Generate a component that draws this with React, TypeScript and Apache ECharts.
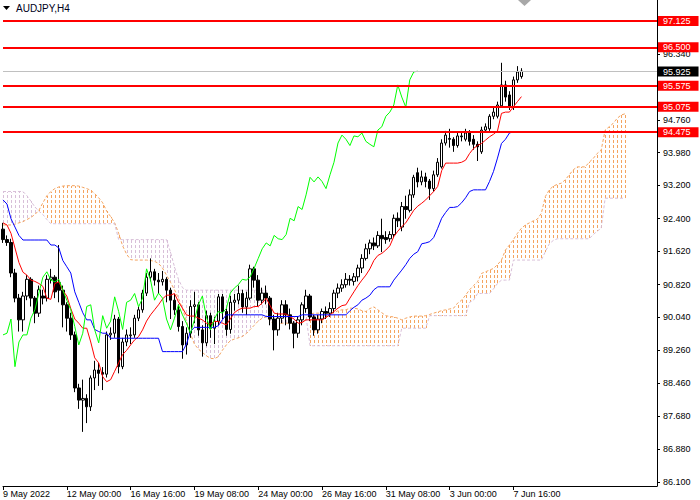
import React, { useEffect, useRef } from "react";
import * as echarts from "echarts";

// ---- tick labels ----
const dateLabels = ["9 May 2022", "12 May 00:00", "16 May 16:00", "19 May 08:00", "24 May 00:00", "26 May 16:00", "31 May 08:00", "3 Jun 00:00", "7 Jun 16:00"];
const priceTicks = [96.34, 94.76, 93.98, 93.2, 92.4, 91.62, 90.82, 90.04, 89.26, 88.46, 87.68, 86.88, 86.1];

// ---- horizontal levels ----
const levels = [97.125, 96.5, 95.575, 95.075, 94.475];
const bidPrice = 95.925;

// ---- candles (H4) ----
const opens = [92.15, 91.90, 91.83, 91.10, 90.50, 89.98, 90.55, 90.95, 90.50, 90.14,
  90.55, 90.50, 90.95, 91.00, 90.87, 90.69, 90.34, 90.02, 89.62, 88.35,
  88.06, 88.10, 87.90, 88.59, 88.78, 88.72, 88.68, 89.62, 89.66, 90.00,
  88.86, 89.45, 89.60, 89.62, 90.02, 90.22, 90.62, 91.00, 91.13, 90.93,
  90.89, 90.95, 90.69, 90.45, 90.22, 89.82, 89.38, 89.66, 90.30, 90.34,
  89.74, 89.43, 90.08, 89.78, 89.95, 90.53, 90.18, 89.75, 90.40, 90.45,
  90.61, 90.29, 90.50, 91.20, 90.93, 90.45, 90.62, 90.50, 90.00, 89.74,
  90.02, 90.34, 90.10, 89.90, 89.66, 89.98, 90.25, 90.55, 90.05, 89.74,
  90.00, 90.18, 90.14, 90.25, 90.62, 90.74, 90.82, 90.95, 90.90, 91.01,
  91.22, 91.45, 91.68, 91.82, 91.75, 92.00, 91.95, 91.92, 92.02, 92.41,
  92.20, 92.69, 92.60, 92.97, 93.50, 93.28, 93.40, 93.30, 93.12, 93.45,
  93.64, 94.21, 94.32, 94.30, 94.15, 94.38, 94.30, 94.45, 94.30, 94.18,
  94.00, 94.52, 94.55, 94.85, 94.85, 95.10, 95.60, 95.36, 95.07, 95.72,
  95.80];
const closes = [91.90, 91.83, 91.10, 90.50, 89.98, 90.55, 90.95, 90.50, 90.14, 90.70,
  90.50, 90.95, 91.00, 90.65, 90.69, 90.34, 90.02, 89.62, 88.35, 88.06,
  88.10, 87.90, 88.59, 88.78, 88.70, 88.68, 89.62, 89.66, 90.00, 88.86,
  89.45, 89.62, 89.62, 90.02, 90.22, 90.62, 91.00, 91.13, 90.93, 90.89,
  90.95, 90.69, 90.45, 90.22, 89.82, 89.38, 89.66, 90.30, 90.34, 89.74,
  89.43, 90.08, 89.78, 89.95, 90.53, 90.18, 89.75, 90.40, 90.45, 90.61,
  90.29, 90.50, 91.20, 90.93, 90.45, 90.62, 90.50, 90.00, 89.74, 90.02,
  90.34, 90.10, 89.90, 89.66, 89.98, 90.34, 90.55, 90.05, 89.74, 90.00,
  90.18, 90.14, 90.25, 90.62, 90.74, 90.82, 90.95, 90.93, 91.01, 91.22,
  91.45, 91.68, 91.82, 91.75, 92.00, 91.92, 91.90, 92.02, 92.41, 92.35,
  92.69, 92.62, 92.97, 93.39, 93.28, 93.40, 93.29, 93.12, 93.45, 93.75,
  94.21, 94.40, 94.30, 94.15, 94.38, 94.36, 94.45, 94.25, 94.18, 94.12,
  94.52, 94.60, 94.85, 94.95, 95.12, 95.60, 95.31, 95.07, 95.72, 95.91,
  95.93];
const highs = [92.30, 92.00, 91.92, 91.20, 90.60, 90.65, 91.05, 91.00, 90.55, 90.80,
  90.70, 91.05, 91.20, 91.05, 91.77, 90.80, 90.40, 90.15, 89.70, 88.45,
  88.55, 88.20, 88.65, 89.00, 88.95, 88.85, 89.70, 89.80, 90.10, 90.05,
  89.55, 89.75, 89.80, 90.10, 90.30, 90.70, 91.10, 91.45, 91.20, 91.10,
  91.15, 91.00, 90.75, 90.60, 90.35, 89.95, 89.80, 90.45, 90.65, 90.40,
  89.85, 90.20, 90.15, 90.05, 90.60, 90.60, 90.25, 90.55, 90.60, 90.80,
  90.70, 90.65, 91.30, 91.25, 91.05, 90.75, 90.80, 90.55, 90.10, 90.15,
  90.45, 90.45, 90.25, 89.95, 90.05, 90.40, 90.70, 90.60, 90.10, 90.10,
  90.25, 90.30, 90.40, 90.70, 90.85, 90.95, 91.10, 91.05, 91.10, 91.30,
  91.55, 91.80, 91.90, 91.95, 92.10, 92.40, 92.10, 92.10, 92.50, 92.55,
  92.80, 92.95, 93.10, 93.45, 93.62, 93.55, 93.50, 93.35, 93.55, 93.85,
  94.30, 94.50, 94.55, 94.35, 94.45, 94.45, 94.55, 94.52, 94.40, 94.25,
  94.60, 94.68, 94.90, 95.05, 95.20, 96.13, 95.70, 95.45, 95.80, 96.05,
  96.00];
const lows = [91.82, 91.75, 91.00, 90.40, 89.70, 89.70, 90.45, 90.30, 89.90, 90.05,
  90.35, 90.42, 90.85, 90.50, 90.40, 89.80, 89.70, 89.50, 88.25, 87.85,
  87.30, 87.51, 87.80, 88.30, 88.40, 88.30, 88.60, 89.50, 89.55, 88.70,
  88.80, 89.35, 89.40, 89.55, 89.95, 90.15, 90.55, 90.90, 90.80, 90.60,
  90.80, 90.40, 90.00, 90.10, 89.70, 89.05, 89.15, 89.55, 89.90, 89.60,
  89.10, 89.35, 89.55, 89.40, 89.85, 90.00, 89.60, 89.65, 90.20, 90.35,
  90.15, 90.10, 90.45, 90.75, 90.30, 90.35, 90.35, 89.85, 89.25, 89.60,
  89.90, 89.85, 89.75, 89.30, 89.55, 89.85, 90.15, 89.95, 89.60, 89.65,
  89.90, 90.00, 90.05, 90.15, 90.50, 90.65, 90.75, 90.80, 90.80, 90.90,
  91.10, 91.40, 91.55, 91.65, 91.70, 91.60, 91.80, 91.85, 91.95, 92.20,
  92.10, 92.40, 92.55, 92.90, 93.15, 93.20, 93.15, 92.85, 93.05, 93.40,
  93.60, 94.15, 94.10, 94.00, 94.10, 94.25, 94.25, 94.15, 94.05, 93.78,
  93.95, 94.45, 94.50, 94.78, 94.80, 95.05, 95.20, 95.00, 95.00, 95.65,
  95.75];

// ---- Ichimoku lines ----
const tenkan = [92.30, 92.25, 92.05, 91.70, 91.35, 91.12, 91.05, 90.93, 90.90, 90.85,
  90.78, 90.50, 90.47, 90.85, 90.89, 90.68, 90.55, 90.25, 90.00, 89.90,
  89.78, 89.78, 89.45, 89.07, 88.95, 88.62, 88.50, 88.55, 88.75, 88.95,
  89.15, 89.25, 89.38, 89.50, 89.58, 89.74, 89.95, 90.10, 90.22, 90.34,
  90.48, 90.57, 90.57, 90.61, 90.41, 90.26, 90.10, 90.07, 90.07, 90.02,
  89.98, 89.90, 89.88, 89.94, 89.94, 89.90, 89.86, 90.00, 90.15, 90.22,
  90.26, 90.26, 90.26, 90.30, 90.30, 90.38, 90.50, 90.32, 90.14, 90.12,
  90.12, 90.12, 90.05, 90.00, 89.90, 89.92, 89.98, 89.98, 89.98, 89.98,
  89.98, 90.04, 90.10, 90.18, 90.26, 90.32, 90.34, 90.50, 90.65, 90.80,
  90.93, 91.05, 91.20, 91.40, 91.52, 91.57, 91.65, 91.75, 91.97, 92.10,
  92.21, 92.30, 92.45, 92.60, 92.70, 92.77, 92.85, 92.95, 93.05, 93.17,
  93.55, 93.73, 93.73, 93.73, 93.73, 93.75, 93.80, 93.96, 94.08, 94.15,
  94.20, 94.28, 94.36, 94.42, 94.50, 94.92, 94.95, 94.95, 95.08, 95.20,
  95.32];
const kijun = [92.85, 92.75, 92.40, 92.20, 92.00, 91.89, 91.89, 91.89, 91.89, 91.89,
  91.89, 91.89, 91.77, 91.77, 91.70, 91.40, 91.25, 91.10, 90.65, 90.40,
  90.15, 89.98, 89.98, 89.75, 89.70, 89.66, 89.66, 89.54, 89.54, 89.54,
  89.54, 89.54, 89.54, 89.54, 89.54, 89.54, 89.54, 89.54, 89.54, 89.54,
  89.22, 89.22, 89.22, 89.22, 89.22, 89.22, 89.40, 89.70, 89.80, 89.80,
  89.80, 89.80, 89.80, 89.80, 89.84, 89.98, 90.10, 90.10, 90.10, 90.10,
  90.10, 90.10, 90.10, 90.10, 90.10, 90.10, 90.06, 90.06, 90.06, 90.06,
  90.06, 90.06, 90.06, 90.06, 90.06, 90.10, 90.10, 90.10, 90.10, 90.10,
  90.10, 90.10, 90.10, 90.10, 90.10, 90.10, 90.10, 90.20, 90.28, 90.34,
  90.45, 90.50, 90.57, 90.70, 90.77, 90.77, 90.77, 90.77, 90.93, 91.05,
  91.17, 91.30, 91.45, 91.55, 91.61, 91.80, 91.82, 91.85, 91.95, 92.17,
  92.41, 92.55, 92.67, 92.67, 92.69, 92.78, 92.90, 93.05, 93.09, 93.09,
  93.09, 93.09, 93.29, 93.53, 93.85, 94.20, 94.30, 94.45, 94.48];
const spanA = [92.25, 92.25, 92.25, 92.27, 92.30, 92.33, 92.38, 92.43, 92.50, 92.60,
  92.78, 92.95, 93.05, 93.12, 93.16, 93.18, 93.19, 93.19, 93.19, 93.18,
  93.15, 93.12, 93.08, 93.00, 92.90, 92.78, 92.58, 92.45, 92.30, 92.05,
  91.75, 91.55, 91.42, 91.41, 91.41, 91.41, 91.41, 91.40, 91.38, 91.33,
  91.22, 91.05, 90.88, 90.70, 90.50, 90.25, 89.95, 89.65, 89.40, 89.28,
  89.20, 89.12, 89.06, 89.05, 89.10, 89.25, 89.38, 89.48, 89.52, 89.55,
  89.58, 89.65, 89.75, 89.85, 89.95, 90.02, 90.05, 89.95, 89.86, 89.88,
  89.90, 89.90, 89.90, 89.90, 89.90, 89.90, 90.00, 90.12, 90.14, 90.14,
  90.14, 90.14, 90.14, 90.14, 90.20, 90.22, 90.22, 90.26, 90.26, 90.24,
  90.20, 90.18, 90.25, 90.29, 90.22, 90.15, 90.08, 90.06, 90.05, 90.02,
  89.98, 90.02, 90.05, 90.07, 90.07, 90.07, 90.08, 90.11, 90.14, 90.17,
  90.20, 90.22, 90.24, 90.26, 90.38, 90.45, 90.57, 90.70, 90.80, 90.89,
  91.09, 91.13, 91.17, 91.21, 91.30, 91.41, 91.65, 91.77, 91.90, 92.05,
  92.17, 92.25, 92.30, 92.35, 92.39, 92.53, 92.93, 93.09, 93.18, 93.22,
  93.25, 93.33, 93.45, 93.57, 93.64, 93.64, 93.64, 93.75, 93.84, 93.96,
  94.04, 94.52, 94.60, 94.68, 94.80, 94.88, 94.91];
const spanB = [93.05, 93.05, 93.05, 93.05, 93.05, 93.05, 92.95, 92.82, 92.68, 92.58,
  92.50, 92.38, 92.28, 92.28, 92.28, 92.28, 92.28, 92.28, 92.28, 92.28,
  92.28, 92.28, 92.28, 92.28, 92.28, 92.28, 92.28, 92.28, 92.28, 91.90,
  91.90, 91.90, 91.90, 91.90, 91.90, 91.90, 91.90, 91.90, 91.90, 91.90,
  91.90, 91.90, 91.60, 91.25, 90.95, 90.75, 90.69, 90.69, 90.69, 90.69,
  90.69, 90.69, 90.69, 90.69, 90.69, 90.69, 90.69, 90.69, 90.69, 90.69,
  90.69, 90.69, 90.69, 90.69, 90.69, 90.69, 90.69, 90.05, 90.05, 90.05,
  90.05, 90.05, 90.05, 90.05, 90.05, 90.05, 90.05, 89.36, 89.36, 89.36,
  89.36, 89.36, 89.36, 89.36, 89.36, 89.36, 89.36, 89.36, 89.36, 89.36,
  89.36, 89.36, 89.36, 89.36, 89.36, 89.36, 89.36, 89.36, 89.36, 89.36,
  89.78, 89.78, 89.78, 89.78, 89.78, 89.78, 89.78, 90.08, 90.08, 90.08,
  90.08, 90.08, 90.08, 90.08, 90.08, 90.08, 90.08, 90.40, 90.45, 90.61,
  90.61, 90.61, 90.61, 90.72, 90.85, 90.93, 90.93, 90.93, 91.41, 91.41,
  91.41, 91.41, 91.41, 91.41, 91.41, 91.41, 91.61, 91.80, 91.88, 91.92,
  91.92, 91.92, 91.92, 91.92, 91.92, 91.92, 91.92, 91.92, 92.02, 92.10,
  92.17, 92.89, 92.89, 92.89, 92.89, 92.89, 92.89];

const CHIKOU_SHIFT = 26;
const SLOT_COUNT = 165;
const FONT = "'Liberation Sans', Arial, sans-serif";
const BULL_CLOUD = "#F4A460";
const BEAR_CLOUD = "#D8BFD8";
const DASH_PERIOD = 5;
const DASH_LEN = 3;

export default function App() {
  const ref = useRef<HTMLDivElement>(null);

  useEffect(() => {
    if (!ref.current) return;
    const chart = echarts.init(ref.current, null, { renderer: "svg" });
    const cats = Array.from({ length: SLOT_COUNT }, (_, i) => String(i));
    const candleData = opens.map((o, i) => [o, closes[i], lows[i], highs[i]]);
    const chikou = closes.slice(CHIKOU_SHIFT);
    const cloudData = spanA.map((a, i) => [i, a, spanB[i]]);
    const showTick = (i: number) => i % 16 === 0 && i / 16 < dateLabels.length;

    const levelLabel = (bg: string, v: number) => ({
      show: true,
      position: "end",
      distance: 1,
      formatter: () => v.toFixed(3),
      color: "#fff",
      backgroundColor: bg,
      padding: [1, 8, 0, 5],
      fontSize: 9,
      lineHeight: 9,
      fontFamily: FONT,
    });

    const option: any = {
      animation: false,
      backgroundColor: "#ffffff",
      grid: { left: 0, top: 0, right: 43, bottom: 14, containLabel: false },
      xAxis: {
        type: "category",
        data: cats,
        boundaryGap: false,
        axisLine: { show: true, lineStyle: { color: "#000", width: 1 } },
        axisTick: { show: true, interval: (i: number) => showTick(i), length: 4, lineStyle: { color: "#000" } },
        axisLabel: {
          interval: (i: number) => showTick(i),
          formatter: (v: string) => dateLabels[Number(v) / 16] ?? "",
          align: "left",
          margin: 3,
          color: "#000",
          fontSize: 9,
          fontFamily: FONT,
        },
        splitLine: { show: false },
      },
      yAxis: {
        type: "value",
        position: "right",
        min: 86.005,
        max: 97.632,
        axisLine: { show: true, lineStyle: { color: "#000", width: 1 } },
        axisTick: { show: true, customValues: priceTicks, length: 3, lineStyle: { color: "#000" } },
        axisLabel: {
          customValues: priceTicks,
          formatter: (v: number) => Number(v).toFixed(3),
          margin: 6,
          color: "#000",
          fontSize: 9,
          fontFamily: FONT,
        },
        splitLine: { show: false },
      },
      graphic: [
        { type: "polygon", shape: { points: [[3, 6], [10, 6], [6.5, 10]] }, style: { fill: "#000" } },
        { type: "text", left: 16, top: 3, style: { text: "AUDJPY,H4", fill: "#000020", fontSize: 10, fontFamily: FONT } },
        { type: "polygon", shape: { points: [[518, 0], [531, 0], [524.5, 6]] }, style: { fill: "#a8a8a8" } },
      ],
      series: [
        {
          type: "custom",
          name: "cloud",
          data: cloudData,
          encode: { x: 0, y: [1, 2] },
          clip: true,
          silent: true,
          renderItem: (params: any, api: any) => {
            const i = api.value(0);
            const a = api.value(1);
            const b = api.value(2);
            const p1 = api.coord([i, a]);
            const p2 = api.coord([i, b]);
            const x = Math.round(p1[0]);
            const yTop = Math.round(Math.min(p1[1], p2[1]));
            const yBot = Math.round(Math.max(p1[1], p2[1]));
            const color = a >= b ? BULL_CLOUD : BEAR_CLOUD;
            const children: any[] = [];
            const start = Math.floor(yTop / DASH_PERIOD) * DASH_PERIOD;
            for (let y = start; y < yBot; y += DASH_PERIOD) {
              const y0 = Math.max(y, yTop);
              const y1 = Math.min(y + DASH_LEN, yBot);
              if (y1 > y0) {
                children.push({
                  type: "rect",
                  shape: { x, y: y0, width: 1, height: y1 - y0 },
                  style: { fill: color },
                });
              }
            }
            return { type: "group", children };
          },
          z: 1,
        },
        {
          type: "line", name: "spanA", data: spanA, symbol: "none", silent: true,
          lineStyle: { color: BULL_CLOUD, width: 1, type: [3, 2] }, z: 2,
        },
        {
          type: "line", name: "spanB", data: spanB, symbol: "none", silent: true,
          lineStyle: { color: BEAR_CLOUD, width: 1, type: [3, 2] }, z: 2,
        },
        {
          type: "candlestick",
          name: "AUDJPY",
          data: candleData,
          barWidth: 3,
          silent: true,
          itemStyle: { color: "#ffffff", color0: "#000000", borderColor: "#000000", borderColor0: "#000000", borderWidth: 1 },
          z: 3,
          markLine: {
            symbol: ["none", "none"],
            silent: true,
            animation: false,
            data: [
              ...levels.map((v) => ({ yAxis: v, lineStyle: { color: "#ff0000", width: 2, type: "solid" }, label: levelLabel("#ff0000", v) })),
              { yAxis: bidPrice, lineStyle: { color: "#c0c0c0", width: 1, type: "solid" }, label: levelLabel("#000000", bidPrice) },
            ],
          },
        },
        {
          type: "line", name: "tenkan", data: tenkan, symbol: "none", silent: true,
          lineStyle: { color: "#ff0000", width: 1 }, z: 4,
        },
        {
          type: "line", name: "kijun", data: kijun, symbol: "none", silent: true,
          lineStyle: { color: "#0000ff", width: 1 }, z: 4,
        },
        {
          type: "line", name: "chikou", data: chikou, symbol: "none", silent: true,
          lineStyle: { color: "#00ff00", width: 1 }, z: 4,
        },
      ],
    };

    chart.setOption(option);
    return () => chart.dispose();
  }, []);

  return (
    <div
      ref={ref}
      style={{ position: "fixed", left: 0, top: 0, width: 700, height: 500, background: "#fff" }}
    />
  );
}
